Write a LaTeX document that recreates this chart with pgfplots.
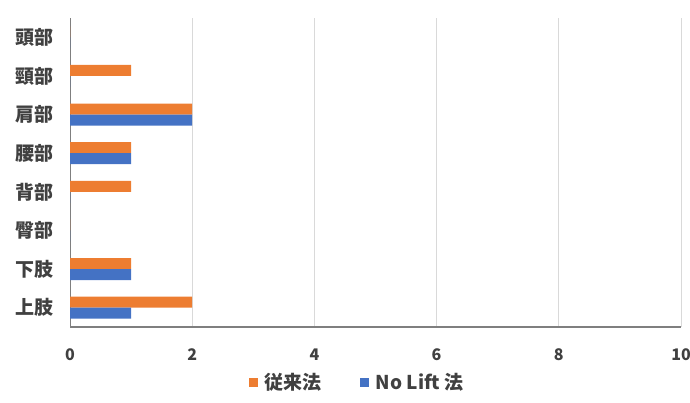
\documentclass[border=0pt]{standalone}
\usepackage{pgfplots}
\pgfplotsset{compat=1.18}
\usepackage{fontspec}
\setmainfont{Noto Sans CJK JP}
\definecolor{barorange}{HTML}{ED7D31}
\definecolor{barblue}{HTML}{4472C4}
\definecolor{labelgray}{HTML}{404040}
\definecolor{gridgray}{HTML}{D9D9D9}
\definecolor{axisgray}{HTML}{7F7F7F}
\begin{document}
\begin{tikzpicture}[x=1pt,y=1pt]
\useasboundingbox (0,0) rectangle (690,403);
\begin{axis}[
  at={(70pt,76pt)}, anchor=south west,
  scale only axis, width=611pt, height=309pt,
  xbar, bar width=11pt,
  xmin=0, xmax=10, ymin=-0.5, ymax=7.5,
  xtick={0,2,4,6,8,10},
  ytick={0,1,2,3,4,5,6,7},
  yticklabels={上肢,下肢,臀部,背部,腰部,肩部,頸部,頭部},
  axis x line*=bottom, axis y line*=left,
  x axis line style={draw=axisgray, line width=1.6pt, -},
  y axis line style={draw=axisgray, line width=1pt, -},
  xmajorgrids, grid style={draw=gridgray, line width=0.8pt},
  major tick length=0pt,
  tick label style={font=\bfseries\fontsize{16}{18}\selectfont, text=labelgray},
  yticklabel style={font=\bfseries\fontsize{19}{21}\selectfont, xshift=-13pt},
  xticklabel style={yshift=-18pt},
  /pgf/number format/assume math mode=true,
  legend style={at={(0.47,-0.135)}, anchor=north, draw=none, fill=none,
    legend columns=2, font=\bfseries\fontsize{19}{21}\selectfont,
    text=labelgray, /tikz/every even column/.append style={column sep=36pt}},
  % square swatch, with a little empty room before the entry text
  legend image code/.code={\fill (0pt,-5pt) rectangle (9pt,4pt); \path (14pt,0pt);},
]
\addplot[fill=barorange, draw=none, bar shift=5.5pt] coordinates
  {(2,0) (1,1) (0,2) (1,3) (1,4) (2,5) (1,6) (0,7)};
\addplot[fill=barblue, draw=none, bar shift=-5.5pt] coordinates
  {(1,0) (1,1) (0,2) (0,3) (1,4) (2,5) (0,6) (0,7)};
\legend{従来法, No Lift 法}
\end{axis}
\end{tikzpicture}
\end{document}
